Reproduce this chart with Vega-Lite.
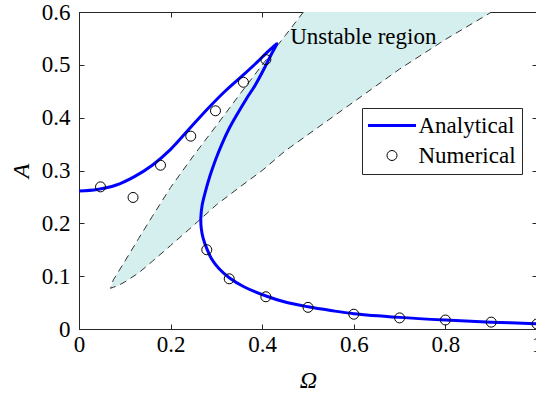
{
  "$schema": "https://vega.github.io/schema/vega-lite/v6.json",
  "width": 458,
  "height": 317,
  "autosize": {"type": "none"},
  "padding": {"left": 79, "top": 12, "right": 0, "bottom": 66},
  "background": "white",
  "config": {
    "view": {"stroke": null},
    "font": "Liberation Serif",
    "axis": {
      "labelFont": "Liberation Serif", "labelFontSize": 23, "labelColor": "#000",
      "domainColor": "#262626", "tickColor": "#262626", "tickSize": -5, "grid": false,
      "titleFont": "Liberation Serif", "titleFontSize": 24, "titleFontStyle": "italic",
      "titleFontWeight": "normal", "titleColor": "#000", "domainWidth": 1, "tickWidth": 1,
      "labelFlush": false, "labelOverlap": false
    },
    "legend": {
      "orient": "none", "legendX": 283, "legendY": 96, "padding": 6,
      "strokeColor": "#262626", "fillColor": "white", "cornerRadius": 0,
      "labelFont": "Liberation Serif", "labelFontSize": 23, "labelColor": "#000",
      "symbolOffset": 12.5, "labelOffset": 15, "rowPadding": 6, "symbolType": "stroke"
    }
  },
  "datasets": {
    "region": [
      {"x": 0.069, "hi": 0.077, "lo": 0.077},
      {"x": 0.075, "hi": 0.093, "lo": 0.079},
      {"x": 0.085, "hi": 0.107, "lo": 0.082},
      {"x": 0.1, "hi": 0.128, "lo": 0.089},
      {"x": 0.13, "hi": 0.171, "lo": 0.106},
      {"x": 0.16, "hi": 0.213, "lo": 0.128},
      {"x": 0.2, "hi": 0.268, "lo": 0.158},
      {"x": 0.25, "hi": 0.328, "lo": 0.196},
      {"x": 0.3, "hi": 0.385, "lo": 0.235},
      {"x": 0.35, "hi": 0.443, "lo": 0.268},
      {"x": 0.4, "hi": 0.5, "lo": 0.3},
      {"x": 0.45, "hi": 0.555, "lo": 0.337},
      {"x": 0.49, "hi": 0.6, "lo": 0.361},
      {"x": 0.5, "hi": 0.6, "lo": 0.368},
      {"x": 0.6, "hi": 0.6, "lo": 0.43},
      {"x": 0.7, "hi": 0.6, "lo": 0.492},
      {"x": 0.8, "hi": 0.6, "lo": 0.548},
      {"x": 0.901, "hi": 0.6, "lo": 0.6}
    ],
    "boundary": [
      {"i": 1, "x": 0.49, "y": 0.6},
      {"i": 2, "x": 0.45, "y": 0.555},
      {"i": 3, "x": 0.4, "y": 0.5},
      {"i": 4, "x": 0.35, "y": 0.443},
      {"i": 5, "x": 0.3, "y": 0.385},
      {"i": 6, "x": 0.25, "y": 0.328},
      {"i": 7, "x": 0.2, "y": 0.268},
      {"i": 8, "x": 0.16, "y": 0.213},
      {"i": 9, "x": 0.13, "y": 0.171},
      {"i": 10, "x": 0.1, "y": 0.128},
      {"i": 11, "x": 0.085, "y": 0.107},
      {"i": 12, "x": 0.075, "y": 0.093},
      {"i": 13, "x": 0.069, "y": 0.077},
      {"i": 14, "x": 0.075, "y": 0.079},
      {"i": 15, "x": 0.085, "y": 0.082},
      {"i": 16, "x": 0.1, "y": 0.089},
      {"i": 17, "x": 0.13, "y": 0.106},
      {"i": 18, "x": 0.16, "y": 0.128},
      {"i": 19, "x": 0.2, "y": 0.158},
      {"i": 20, "x": 0.25, "y": 0.196},
      {"i": 21, "x": 0.3, "y": 0.235},
      {"i": 22, "x": 0.35, "y": 0.268},
      {"i": 23, "x": 0.4, "y": 0.3},
      {"i": 24, "x": 0.45, "y": 0.337},
      {"i": 25, "x": 0.5, "y": 0.368},
      {"i": 26, "x": 0.6, "y": 0.43},
      {"i": 27, "x": 0.7, "y": 0.492},
      {"i": 28, "x": 0.8, "y": 0.548},
      {"i": 29, "x": 0.901, "y": 0.6}
    ],
    "analytical": [
      {"i": 1, "x": 0, "y": 0.261, "s": "Analytical"},
      {"i": 2, "x": 0.04, "y": 0.264, "s": "Analytical"},
      {"i": 3, "x": 0.08, "y": 0.272, "s": "Analytical"},
      {"i": 4, "x": 0.12, "y": 0.288, "s": "Analytical"},
      {"i": 5, "x": 0.16, "y": 0.31, "s": "Analytical"},
      {"i": 6, "x": 0.2, "y": 0.34, "s": "Analytical"},
      {"i": 7, "x": 0.24, "y": 0.378, "s": "Analytical"},
      {"i": 8, "x": 0.28, "y": 0.416, "s": "Analytical"},
      {"i": 9, "x": 0.32, "y": 0.451, "s": "Analytical"},
      {"i": 10, "x": 0.36, "y": 0.482, "s": "Analytical"},
      {"i": 11, "x": 0.39, "y": 0.506, "s": "Analytical"},
      {"i": 12, "x": 0.41, "y": 0.523, "s": "Analytical"},
      {"i": 13, "x": 0.425, "y": 0.535, "s": "Analytical"},
      {"i": 14, "x": 0.432, "y": 0.54, "s": "Analytical"},
      {"i": 15, "x": 0.42, "y": 0.52, "s": "Analytical"},
      {"i": 16, "x": 0.405, "y": 0.494, "s": "Analytical"},
      {"i": 17, "x": 0.385, "y": 0.462, "s": "Analytical"},
      {"i": 18, "x": 0.365, "y": 0.435, "s": "Analytical"},
      {"i": 19, "x": 0.345, "y": 0.406, "s": "Analytical"},
      {"i": 20, "x": 0.327, "y": 0.378, "s": "Analytical"},
      {"i": 21, "x": 0.312, "y": 0.35, "s": "Analytical"},
      {"i": 22, "x": 0.298, "y": 0.32, "s": "Analytical"},
      {"i": 23, "x": 0.286, "y": 0.29, "s": "Analytical"},
      {"i": 24, "x": 0.276, "y": 0.26, "s": "Analytical"},
      {"i": 25, "x": 0.269, "y": 0.235, "s": "Analytical"},
      {"i": 26, "x": 0.266, "y": 0.21, "s": "Analytical"},
      {"i": 27, "x": 0.267, "y": 0.19, "s": "Analytical"},
      {"i": 28, "x": 0.271, "y": 0.172, "s": "Analytical"},
      {"i": 29, "x": 0.279, "y": 0.152, "s": "Analytical"},
      {"i": 30, "x": 0.29, "y": 0.132, "s": "Analytical"},
      {"i": 31, "x": 0.305, "y": 0.115, "s": "Analytical"},
      {"i": 32, "x": 0.328, "y": 0.097, "s": "Analytical"},
      {"i": 33, "x": 0.36, "y": 0.08, "s": "Analytical"},
      {"i": 34, "x": 0.41, "y": 0.062, "s": "Analytical"},
      {"i": 35, "x": 0.45, "y": 0.051, "s": "Analytical"},
      {"i": 36, "x": 0.5, "y": 0.042, "s": "Analytical"},
      {"i": 37, "x": 0.55, "y": 0.035, "s": "Analytical"},
      {"i": 38, "x": 0.6, "y": 0.029, "s": "Analytical"},
      {"i": 39, "x": 0.7, "y": 0.022, "s": "Analytical"},
      {"i": 40, "x": 0.8, "y": 0.017, "s": "Analytical"},
      {"i": 41, "x": 0.9, "y": 0.013, "s": "Analytical"},
      {"i": 42, "x": 1.0, "y": 0.01, "s": "Analytical"}
    ],
    "numerical": [
      {"x": 0.047, "y": 0.269, "s": "Numerical"},
      {"x": 0.118, "y": 0.249, "s": "Numerical"},
      {"x": 0.178, "y": 0.31, "s": "Numerical"},
      {"x": 0.244, "y": 0.365, "s": "Numerical"},
      {"x": 0.298, "y": 0.413, "s": "Numerical"},
      {"x": 0.359, "y": 0.467, "s": "Numerical"},
      {"x": 0.408, "y": 0.51, "s": "Numerical"},
      {"x": 0.279, "y": 0.15, "s": "Numerical"},
      {"x": 0.328, "y": 0.095, "s": "Numerical"},
      {"x": 0.408, "y": 0.061, "s": "Numerical"},
      {"x": 0.5, "y": 0.041, "s": "Numerical"},
      {"x": 0.6, "y": 0.028, "s": "Numerical"},
      {"x": 0.7, "y": 0.021, "s": "Numerical"},
      {"x": 0.8, "y": 0.017, "s": "Numerical"},
      {"x": 0.9, "y": 0.013, "s": "Numerical"},
      {"x": 1.0, "y": 0.0095, "s": "Numerical"}
    ],
    "label": [
      {"x": 0.461, "y": 0.539, "t": "Unstable region"}
    ]
  },
  "layer": [
    {
      "data": {"name": "region"},
      "mark": {"type": "area", "color": "#d4efee", "opacity": 1, "clip": true},
      "encoding": {
        "x": {"field": "x", "type": "quantitative", "scale": {"domain": [0, 1], "nice": false, "zero": false},
          "axis": {"orient": "bottom", "title": "Ω", "values": [0, 0.2, 0.4, 0.6, 0.8, 1], "format": "~g",
            "labelPadding": 9, "titleX": 229, "titleY": 51, "titleBaseline": "middle", "titleAlign": "center"}},
        "y": {"field": "hi", "type": "quantitative", "scale": {"domain": [0, 0.6], "nice": false, "zero": false},
          "axis": {"orient": "left", "title": "A", "values": [0, 0.1, 0.2, 0.3, 0.4, 0.5, 0.6], "format": "~g",
            "labelPadding": 14, "titleX": -58, "titleY": 158.5, "titleAngle": -90, "titleBaseline": "middle", "titleAlign": "center"}},
        "y2": {"field": "lo"}
      }
    },
    {
      "data": {"name": "boundary"},
      "mark": {"type": "line", "color": "#333333", "strokeWidth": 1, "strokeDash": [7, 5], "clip": true},
      "encoding": {
        "x": {"field": "x", "type": "quantitative",
          "axis": {"orient": "top", "labels": false, "title": null, "values": [0, 0.2, 0.4, 0.6, 0.8, 1]}},
        "y": {"field": "y", "type": "quantitative",
          "axis": {"orient": "right", "labels": false, "title": null, "values": [0, 0.1, 0.2, 0.3, 0.4, 0.5, 0.6]}},
        "order": {"field": "i", "type": "quantitative"}
      }
    },
    {
      "data": {"name": "analytical"},
      "mark": {"type": "line", "strokeWidth": 3, "interpolate": "catmull-rom", "clip": true},
      "encoding": {
        "x": {"field": "x", "type": "quantitative", "axis": null},
        "y": {"field": "y", "type": "quantitative", "axis": null},
        "order": {"field": "i", "type": "quantitative"},
        "color": {"field": "s", "type": "nominal",
          "scale": {"domain": ["Analytical", "Numerical"], "range": ["#0000ff", "#000000"]},
          "legend": {"title": null,
            "encode": {"symbols": {"update": {
              "shape": {"signal": "datum.value === 'Analytical' ? 'stroke' : 'circle'"},
              "size": {"signal": "datum.value === 'Analytical' ? 2304 : 100"},
              "strokeWidth": {"signal": "datum.value === 'Analytical' ? 3 : 1"},
              "stroke": {"signal": "datum.value === 'Analytical' ? '#0000ff' : '#000000'"},
              "fill": {"value": "transparent"},
              "opacity": {"value": 1}
            }}}}}
      }
    },
    {
      "data": {"name": "numerical"},
      "mark": {"type": "point", "filled": false, "size": 100, "strokeWidth": 1, "opacity": 1, "clip": false},
      "encoding": {
        "x": {"field": "x", "type": "quantitative", "axis": null},
        "y": {"field": "y", "type": "quantitative", "axis": null},
        "color": {"field": "s", "type": "nominal"}
      }
    },
    {
      "data": {"name": "label"},
      "mark": {"type": "text", "align": "left", "baseline": "alphabetic", "font": "Liberation Serif", "fontSize": 23, "color": "#000"},
      "encoding": {
        "x": {"field": "x", "type": "quantitative", "axis": null},
        "y": {"field": "y", "type": "quantitative", "axis": null},
        "text": {"field": "t", "type": "nominal"}
      }
    }
  ],
  "resolve": {"axis": {"x": "independent", "y": "independent"}}
}
